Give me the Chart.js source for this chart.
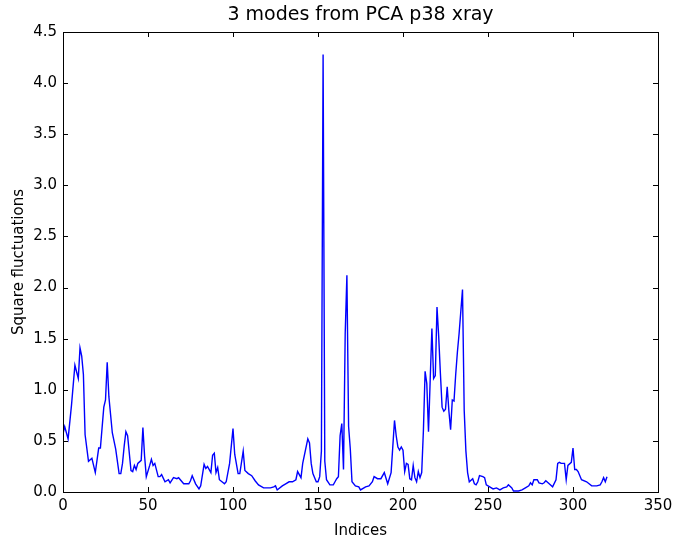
<!DOCTYPE html>
<html>
<head>
<meta charset="utf-8">
<script src="https://cdn.jsdelivr.net/npm/chart.js@4/dist/chart.umd.min.js"></script>
<style>
  html, body { margin: 0; padding: 0; background: #ffffff; }
  #wrap { width: 674px; height: 540px; }
</style>
</head>
<body>
<div id="wrap"><canvas id="c" width="674" height="540"></canvas></div>
<script>
const chartTitle = "3 modes from PCA p38 xray";
const xLabel = "Indices";
const yLabel = "Square fluctuations";

const indices = [0,1,3,5,7,9,10,11,12,13,15,17,19,21,22,24,25,26,27,29,31,33,34,35,36,37,38,40,41,42,43,44,46,47,48,49,51,52,53,54,56,57,58,60,62,63,65,67,68,71,74,75,76,78,80,81,83,84,85,87,88,89,90,91,92,95,96,98,100,101,103,104,106,107,109,111,113,115,118,122,124,125,126,129,131,133,135,137,138,140,141,144,145,146,147,149,150,151,152,153,154,155,157,159,160,161,162,163,164,165,166,167,168,169,170,172,174,175,178,180,182,183,185,187,189,191,193,195,196,197,198,199,200,201,202,203,204,205,206,207,208,209,210,211,212,213,214,215,216,217,218,219,220,221,222,223,224,225,226,227,228,229,230,231,232,233,235,236,237,238,239,241,242,243,244,245,247,248,249,251,253,255,257,259,261,262,264,265,268,270,272,274,275,276,277,279,280,282,283,284,286,288,290,291,292,293,295,296,297,299,300,301,302,303,305,308,311,314,316,317,318,319,320];

const fluct = [0.57,0.64,0.52,0.85,1.24,1.11,1.41,1.33,1.15,0.56,0.30,0.33,0.19,0.43,0.43,0.83,0.90,1.27,0.93,0.58,0.42,0.18,0.18,0.28,0.45,0.59,0.55,0.21,0.20,0.26,0.22,0.28,0.31,0.63,0.35,0.15,0.26,0.32,0.26,0.28,0.15,0.15,0.17,0.10,0.12,0.09,0.14,0.13,0.14,0.08,0.08,0.11,0.16,0.08,0.03,0.06,0.27,0.23,0.25,0.19,0.36,0.38,0.19,0.24,0.12,0.08,0.10,0.28,0.62,0.37,0.18,0.18,0.40,0.21,0.18,0.16,0.11,0.07,0.04,0.04,0.05,0.06,0.02,0.06,0.08,0.10,0.10,0.12,0.20,0.14,0.28,0.52,0.48,0.28,0.18,0.10,0.10,0.15,0.40,4.28,0.30,0.12,0.07,0.07,0.10,0.13,0.15,0.55,0.67,0.22,1.55,2.12,0.64,0.42,0.10,0.06,0.05,0.02,0.05,0.06,0.10,0.15,0.13,0.13,0.19,0.08,0.19,0.70,0.55,0.44,0.41,0.44,0.41,0.20,0.28,0.27,0.13,0.12,0.26,0.14,0.10,0.20,0.14,0.19,0.60,1.18,1.06,0.59,1.10,1.60,1.11,1.14,1.81,1.52,1.16,0.83,0.79,0.81,1.03,0.79,0.61,0.90,0.89,1.15,1.37,1.55,1.98,0.80,0.40,0.19,0.10,0.13,0.08,0.07,0.10,0.16,0.15,0.14,0.07,0.05,0.03,0.04,0.02,0.04,0.05,0.07,0.04,0.01,0.01,0.02,0.04,0.06,0.09,0.07,0.12,0.12,0.09,0.08,0.09,0.11,0.08,0.05,0.12,0.28,0.29,0.28,0.28,0.12,0.26,0.29,0.43,0.22,0.22,0.20,0.12,0.10,0.06,0.06,0.07,0.10,0.14,0.10,0.15];

const xTicks = [0,50,100,150,200,250,300,350];
const yTicks = [0,0.5,1.0,1.5,2.0,2.5,3.0,3.5,4.0,4.5];

const FONT = "'DejaVu Sans', 'Liberation Sans', sans-serif";

const boxTicks = {
  id: 'boxTicks',
  afterDraw(chart) {
    const ctx = chart.ctx;
    const a = chart.chartArea;
    const xs = chart.scales.x, ys = chart.scales.y;
    const L = 5;
    ctx.save();
    ctx.strokeStyle = '#000000';
    ctx.lineWidth = 1;
    ctx.beginPath();
    xTicks.forEach(v => {
      const px = Math.round(xs.getPixelForValue(v)) + 0.5;
      ctx.moveTo(px, a.bottom); ctx.lineTo(px, a.bottom - L);
      ctx.moveTo(px, a.top); ctx.lineTo(px, a.top + L);
    });
    yTicks.forEach(v => {
      const py = Math.round(ys.getPixelForValue(v)) + 0.5;
      ctx.moveTo(a.left, py); ctx.lineTo(a.left + L, py);
      ctx.moveTo(a.right, py); ctx.lineTo(a.right - L, py);
    });
    ctx.stroke();
    ctx.strokeRect(Math.round(a.left) + 0.5, Math.round(a.top) + 0.5,
                   Math.round(a.right - a.left), Math.round(a.bottom - a.top));
    // title centred over the plot area
    ctx.fillStyle = '#000000';
    ctx.font = "19px " + FONT;
    ctx.textAlign = 'center';
    ctx.textBaseline = 'middle';
    ctx.fillText(chartTitle, (a.left + a.right) / 2, 15);
    ctx.restore();
  }
};

new Chart(document.getElementById('c'), {
  type: 'line',
  data: {
    datasets: [{
      data: indices.map((x, i) => ({ x: x, y: fluct[i] })),
      borderColor: '#0000ff',
      borderWidth: 1.4,
      pointRadius: 0,
      tension: 0,
      fill: false
    }]
  },
  options: {
    responsive: false,
    animation: false,
    devicePixelRatio: 1,
    layout: { padding: { left: 0, right: 16, top: 32, bottom: 0 } },
    plugins: {
      legend: { display: false },
      tooltip: { enabled: false },
      title: { display: false }
    },
    scales: {
      x: {
        type: 'linear',
        min: 0, max: 350,
        afterBuildTicks: s => { s.ticks = xTicks.map(v => ({ value: v })); },
        afterFit: s => { s.height = 48; s.paddingLeft = 0; s.paddingRight = 0; },
        grid: { display: false, drawTicks: false },
        border: { display: true, color: '#000000', width: 1 },
        ticks: { color: '#000000', font: { family: FONT, size: 15 }, padding: 5, maxRotation: 0, autoSkip: false,
                 callback: v => String(v) },
        title: { display: true, text: xLabel, color: '#000000', font: { family: FONT, size: 15 }, padding: { top: 0, bottom: 0 } }
      },
      y: {
        type: 'linear',
        min: 0, max: 4.5,
        afterBuildTicks: s => { s.ticks = yTicks.map(v => ({ value: v })); },
        afterFit: s => { s.width = 63; s.paddingTop = 0; s.paddingBottom = 0; },
        grid: { display: false, drawTicks: false },
        border: { display: true, color: '#000000', width: 1 },
        ticks: { color: '#000000', font: { family: FONT, size: 15 }, padding: 6, autoSkip: false,
                 callback: v => Number(v).toFixed(1) },
        title: { display: true, text: yLabel, color: '#000000', font: { family: FONT, size: 15 }, padding: { top: 10, bottom: 0 } }
      }
    }
  },
  plugins: [boxTicks]
});
</script>
</body>
</html>
